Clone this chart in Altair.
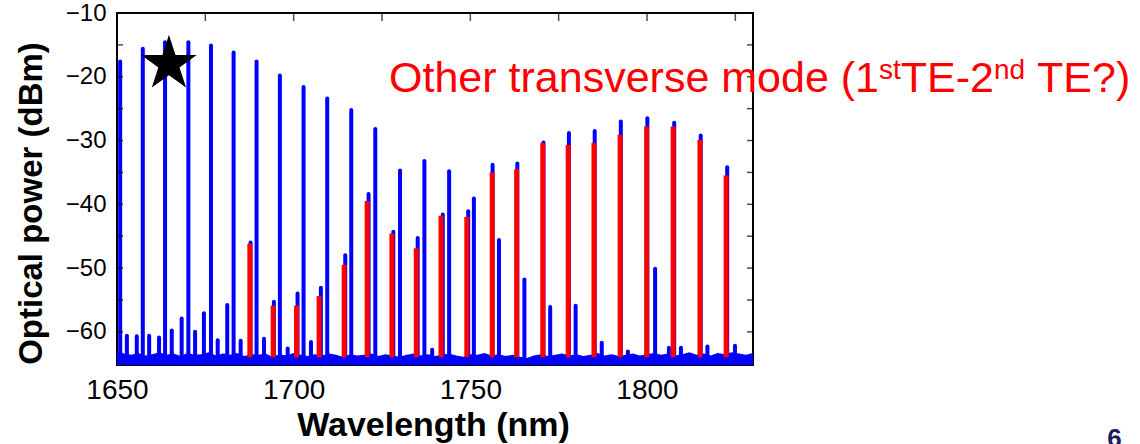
import altair as alt
import pandas as pd

FONT = "Liberation Sans"
BLUE = "#0000FF"
RED = "#FF0000"

# Strong comb lines of the fundamental mode (wavelength in nm, peak power in dBm)
main_wl = [1650.9, 1657.3, 1663.6, 1670.2, 1676.6, 1683.0, 1689.5, 1696.1, 1702.8,
           1709.5, 1716.3, 1723.1, 1730.1, 1737.0, 1744.0, 1751.0, 1756.3, 1763.3,
           1770.7, 1777.9, 1785.2, 1792.6, 1800.1, 1807.7, 1815.2, 1822.7]
main_db = [-17.6, -15.6, -14.6, -14.6, -15.1, -16.2, -17.6, -19.8, -21.6,
           -23.4, -25.2, -28.2, -34.7, -33.2, -34.8, -39.1, -33.8, -33.6,
           -30.3, -28.8, -28.5, -27.0, -26.5, -27.2, -29.2, -34.2]

# Weaker lines of the measured spectrum
weak_wl = [1652.8, 1655.6, 1659.1, 1661.9, 1665.5, 1668.3, 1672.1, 1674.6, 1678.5,
           1681.2, 1685.0, 1687.8, 1691.6, 1694.4, 1698.3, 1701.1, 1704.9, 1707.7,
           1714.6, 1721.2, 1728.2, 1735.1, 1739.2, 1742.2, 1749.4, 1758.1, 1765.3,
           1772.6, 1779.8, 1787.2, 1794.6, 1802.3, 1806.2, 1809.6, 1817.1, 1824.9]
weak_db = [-60.6, -60.7, -60.6, -60.9, -59.8, -57.9, -60.0, -57.1, -61.3,
           -55.8, -61.4, -46.0, -61.1, -55.3, -62.6, -54.0, -61.6, -53.1,
           -48.0, -38.4, -44.3, -45.3, -62.8, -41.6, -41.1, -45.6, -51.8,
           -56.1, -55.9, -61.7, -63.1, -50.1, -62.5, -62.5, -62.3, -62.2]

# Lines attributed to the other transverse mode
other_wl = [1687.6, 1694.2, 1700.8, 1707.2, 1714.3, 1720.8, 1727.8, 1734.7, 1741.7,
            1749.0, 1756.2, 1763.1, 1770.5, 1777.7, 1785.0, 1792.4, 1799.9, 1807.4,
            1815.0, 1822.4]
other_db = [-46.2, -55.9, -55.9, -54.4, -49.5, -39.5, -44.6, -46.9, -41.8,
            -42.0, -35.0, -34.5, -30.4, -30.7, -30.4, -29.1, -27.8, -27.8,
            -29.9, -35.5]

# Noise floor, sampled every 2 nm from 1650 to 1830 nm
floor_wl = list(range(1650, 1831, 2))
floor_db = [-63.0, -63.4, -63.6, -63.3, -63.7, -63.5, -63.2, -63.6, -63.4, -63.8,
            -63.3, -63.6, -63.5, -63.2, -63.7, -63.4, -63.6, -63.3, -63.8, -63.5,
            -63.6, -63.4, -63.9, -63.5, -63.7, -63.3, -63.6, -63.8, -63.5, -63.7,
            -63.4, -63.6, -63.9, -63.5, -63.7, -63.6, -63.4, -63.8, -63.5, -63.7,
            -63.9, -63.6, -63.4, -63.7, -63.5, -63.8, -63.6, -63.4, -63.7, -63.9,
            -63.5, -63.6, -63.3, -63.7, -63.5, -63.8, -63.6, -63.9, -64.1, -63.7,
            -63.5, -63.8, -63.6, -63.4, -63.7, -63.5, -63.8, -63.6, -63.3, -63.7,
            -63.5, -63.8, -63.6, -63.4, -63.7, -63.5, -63.3, -63.6, -63.4, -63.7,
            -63.5, -63.2, -63.6, -63.4, -63.7, -63.3, -63.5, -63.2, -63.4, -63.6,
            -63.3]

# Axis tick positions
x_label_ticks = [1650, 1700, 1750, 1800]
x_minor_ticks = [1675, 1700, 1725, 1750, 1775, 1800, 1825]
y_label_ticks = [-60, -50, -40, -30, -20, -10]
y_minor_ticks = [-60, -55, -50, -45, -40, -35, -30, -25, -20, -15]

X_DOMAIN = [1650, 1830]
Y_DOMAIN = [-65.2, -10]
LINE_BASE = -64.0

# Five-pointed star outline in the unit box used by symbol shapes
STAR_PATH = ("M0,-1L0.2245,-0.309L0.951,-0.309L0.3633,0.118L0.588,0.809"
             "L0,0.382L-0.588,0.809L-0.3633,0.118L-0.951,-0.309L-0.2245,-0.309Z")

main_df = pd.DataFrame({"wl": main_wl, "db": main_db})
weak_df = pd.DataFrame({"wl": weak_wl, "db": weak_db})
other_df = pd.DataFrame({"wl": other_wl, "db": other_db})
floor_df = pd.DataFrame({"wl": floor_wl, "db": floor_db})
blue_df = pd.concat([main_df, weak_df], ignore_index=True)
xtick_df = pd.DataFrame({"wl": x_minor_ticks})
ytick_df = pd.DataFrame({"db": y_minor_ticks})
one_row = pd.DataFrame({"k": [0]})

xs = alt.Scale(domain=X_DOMAIN, nice=False, zero=False)
ys = alt.Scale(domain=Y_DOMAIN, nice=False, zero=False)

x_axis = alt.Axis(
    orient="bottom", values=x_label_ticks, format="d", ticks=False, tickSize=0,
    domain=False, grid=False, labelFontSize=28, labelPadding=11, labelFlush=False,
    labelOverlap=False, title="Wavelength (nm)", titleFontSize=34,
    titleFontWeight="bold", titleX=316, titleY=70, titleAlign="center",
    titleBaseline="alphabetic",
)
y_axis = alt.Axis(
    orient="left", values=y_label_ticks, format="d", ticks=False, tickSize=0,
    domain=False, grid=False, labelFontSize=24, labelPadding=11, labelFlush=False,
    labelOverlap=False, title="Optical power (dBm)", titleFontSize=33,
    titleFontWeight="bold", titleAngle=270, titleX=-76, titleY=190,
    titleAlign="center", titleBaseline="alphabetic",
)

floor = alt.Chart(floor_df).mark_area(color=BLUE, interpolate="linear").encode(
    x=alt.X("wl:Q", scale=xs, axis=x_axis),
    y=alt.Y("db:Q", scale=ys, axis=y_axis),
    y2=alt.Y2Datum(Y_DOMAIN[0]),
)

blue_lines = alt.Chart(blue_df).mark_rule(
    color=BLUE, strokeWidth=4, strokeCap="round"
).encode(
    x=alt.X("wl:Q", scale=xs),
    y=alt.Y("db:Q", scale=ys),
    y2=alt.Y2Datum(LINE_BASE),
)

red_lines = alt.Chart(other_df).mark_rule(
    color=RED, strokeWidth=5, strokeCap="butt"
).encode(
    x=alt.X("wl:Q", scale=xs),
    y=alt.Y("db:Q", scale=ys),
    y2=alt.Y2Datum(LINE_BASE),
)

# Inward-pointing ticks along the top, left and right edges of the frame
top_ticks = alt.Chart(xtick_df).mark_tick(
    orient="vertical", color="black", size=8, thickness=1.5, yOffset=4
).encode(
    x=alt.X("wl:Q", scale=xs),
    y=alt.YDatum(Y_DOMAIN[1], scale=ys),
)
left_ticks = alt.Chart(ytick_df).mark_tick(
    orient="horizontal", color="black", size=6, thickness=1.5, xOffset=3
).encode(
    x=alt.XDatum(X_DOMAIN[0], scale=xs),
    y=alt.Y("db:Q", scale=ys),
)
right_ticks = alt.Chart(ytick_df).mark_tick(
    orient="horizontal", color="black", size=6, thickness=1.5, xOffset=-3
).encode(
    x=alt.XDatum(X_DOMAIN[1], scale=xs),
    y=alt.Y("db:Q", scale=ys),
)

star = alt.Chart(one_row).mark_point(
    shape=STAR_PATH, filled=True, color="black", opacity=1, size=3400
).encode(
    x=alt.XDatum(1664.7, scale=xs),
    y=alt.YDatum(-18.0, scale=ys),
)

# Red annotation with superscripts, laid out piece by piece
NOTE_X = 1727.0
NOTE_Y = -22.35
note_pieces = [
    ("Other transverse mode (1", 0.0, 43, 0),
    ("st", 489.9, 28, -13),
    ("TE-2", 511.7, 43, 0),
    ("nd", 604.9, 28, -13),
    ("TE?)", 648.0, 43, 0),
]
note_layers = []
for txt, dx, size, dy in note_pieces:
    note_layers.append(
        alt.Chart(one_row).mark_text(
            text=txt, color=RED, font=FONT, fontSize=size, align="left",
            baseline="alphabetic", dx=dx, dy=dy,
        ).encode(
            x=alt.XDatum(NOTE_X, scale=xs),
            y=alt.YDatum(NOTE_Y, scale=ys),
        )
    )

page_no = alt.Chart(one_row).mark_text(
    text="6", color="#1C1C66", font=FONT, fontSize=26, fontWeight="bold",
    align="center", baseline="alphabetic",
).encode(x=alt.value(997.5), y=alt.value(433.6))

chart = alt.layer(
    floor, blue_lines, red_lines, top_ticks, left_ticks, right_ticks, star,
    *note_layers, page_no,
).properties(
    width=636, height=352,
    autosize=alt.AutoSizeParams(type="none"),
    padding={"left": 117, "top": 13, "right": 387, "bottom": 79},
    background="white",
).configure_view(
    stroke="black", strokeWidth=2
).configure_axis(
    labelFont=FONT, titleFont=FONT, labelColor="black", titleColor="black"
)

chart.save("out.html", embed_options={"renderer": "svg", "actions": False})
